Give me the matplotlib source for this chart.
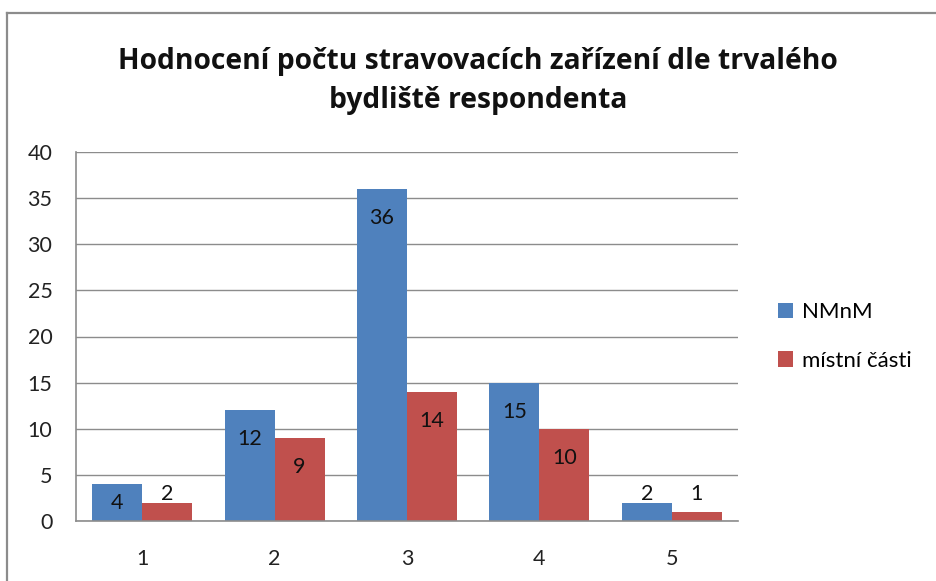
import matplotlib
matplotlib.use("Agg")
import matplotlib.pyplot as plt
from matplotlib.lines import Line2D
import numpy as np

categories = ["1", "2", "3", "4", "5"]
series_names = ["NMnM", "místní části"]
nmnm = [4, 12, 36, 15, 2]
mistni = [2, 9, 14, 10, 1]
colors = ["#4F81BD", "#C0504D"]
title = "Hodnocení počtu stravovacích zařízení dle trvalého\nbydliště respondenta"
yticks = [0, 5, 10, 15, 20, 25, 30, 35, 40]

plt.rcParams['font.family'] = ['Lato', 'DejaVu Sans']

W, H = 936, 581
fig = plt.figure(figsize=(W / 100, H / 100), dpi=100)
fig.patch.set_facecolor("white")

# outer chart border (left and top visible)
fig.add_artist(Line2D([7 / W, 7 / W], [-0.05, 1 - 13 / H], color="#8C8C8C", lw=1.6, transform=fig.transFigure))
fig.add_artist(Line2D([7 / W, 1.05], [1 - 13 / H, 1 - 13 / H], color="#8C8C8C", lw=1.6, transform=fig.transFigure))

ax = fig.add_axes([76 / W, 1 - 521 / H, (738 - 76) / W, (521 - 152) / H])

x = np.arange(len(categories))
bw = 0.378
b1 = ax.bar(x - bw / 2, nmnm, bw, color=colors[0], label=series_names[0], zorder=3)
b2 = ax.bar(x + bw / 2, mistni, bw, color=colors[1], label=series_names[1], zorder=3)

ax.set_xlim(-0.5, len(categories) - 0.5)
ax.set_ylim(0, 40)
ax.set_yticks(yticks)
ax.set_xticks(x)
ax.set_xticklabels(categories)
ax.tick_params(axis="both", length=0, labelsize=15.5, colors="#222222")
ax.tick_params(axis="y", pad=17)
ax.tick_params(axis="x", pad=20)
ax.yaxis.grid(True, color="#8C8C8C", lw=1.0, zorder=0)
for s in ["top", "right"]:
    ax.spines[s].set_visible(False)
for s in ["left", "bottom"]:
    ax.spines[s].set_color("#8C8C8C")
    ax.spines[s].set_linewidth(1.2)
    ax.spines[s].set_zorder(4)

px_per_unit = (521 - 152) / 40.0
for bars, vals in ((b1, nmnm), (b2, mistni)):
    for rect, v in zip(bars, vals):
        hpx = v * px_per_unit
        if hpx > 47:
            off = hpx - 29
        elif hpx >= 30:
            off = 18
        else:
            off = 27
        ax.annotate(str(v), xy=(rect.get_x() + rect.get_width() / 2, 0),
                    xytext=(0, off), textcoords="offset pixels",
                    ha="center", va="center", fontsize=15.5, color="#111111", zorder=5)

fig.text(478 / W, 1 - 81 / H, title, ha="center", va="center", fontsize=20.3,
         fontweight="bold", linespacing=1.45, color="#111111",
         family=['Open Sans', 'DejaVu Sans'])

leg = ax.legend(loc="center left", bbox_to_anchor=(1.03, 0.5), frameon=False,
                fontsize=16, handlelength=0.7, handleheight=0.7, handletextpad=0.4,
                labelspacing=1.3)

fig.savefig("out.png", dpi=100, facecolor="white")
